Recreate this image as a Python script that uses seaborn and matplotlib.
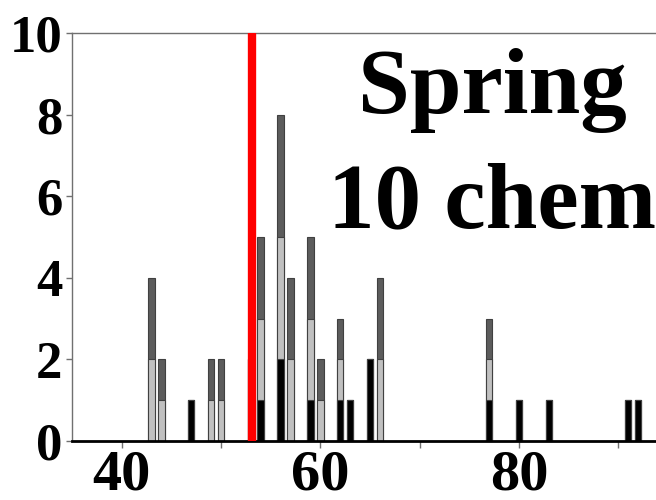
import matplotlib
matplotlib.use('Agg')
import matplotlib.pyplot as plt
import seaborn as sns
import numpy as np
import pandas as pd

# bar positions and counts per layer (bottom -> top)
positions = [43, 44, 47, 49, 50, 53, 54, 56, 57, 59, 60, 62, 63, 65, 66, 77, 80, 83, 91, 92]
black_counts = [0, 0, 1, 0, 0, 2, 1, 2, 0, 1, 0, 1, 1, 2, 0, 1, 1, 1, 1, 1]
light_counts = [2, 1, 0, 1, 1, 0, 2, 3, 2, 2, 1, 1, 0, 0, 2, 1, 0, 0, 0, 0]
dark_counts = [2, 1, 0, 1, 1, 0, 2, 3, 2, 2, 1, 1, 0, 0, 2, 1, 0, 0, 0, 0]
red_line = 53.15
title_lines = ['Spring', '10 chem']
x_major = [40, 60, 80]
x_minor = [50, 70, 90]
y_ticks = [0, 2, 4, 6, 8, 10]

df = pd.DataFrame({'pos': positions, 'black': black_counts, 'light': light_counts, 'dark': dark_counts})
df['lvl1'] = df['black']
df['lvl2'] = df['black'] + df['light']
df['lvl3'] = df['lvl2'] + df['dark']

sns.set_style('ticks')
plt.rcParams['font.family'] = ['Liberation Serif', 'DejaVu Serif']
plt.rcParams['font.weight'] = 'bold'
plt.rcParams['text.color'] = 'black'

fig = plt.figure(figsize=(6.56, 5), dpi=100)
ax = fig.add_axes([72 / 656, 59 / 500, 586 / 656, 408 / 500])

# stacked bars drawn as overlapping cumulative bars
for col, colour in [('lvl3', '#5c5c5c'), ('lvl2', '#c0c0c0'), ('lvl1', 'black')]:
    sns.barplot(data=df, x='pos', y=col, native_scale=True, width=0.65, color=colour,
                saturation=1, edgecolor='#404040', linewidth=0.8, errorbar=None, ax=ax)

ax.axvline(red_line, color='red', lw=6, zorder=5)

ax.set_xlim(35, 94)
ax.set_ylim(0, 10)
ax.set_xticks(x_major)
ax.set_xticks(x_minor, minor=True)
ax.set_yticks(y_ticks)
ax.set_xlabel('')
ax.set_ylabel('')

ax.tick_params(axis='x', which='both', direction='out', length=5, width=1, color='#707070', pad=1,
               labelsize=42, labelcolor='black')
ax.tick_params(axis='y', direction='out', length=4, width=1, color='#707070', pad=3, labelsize=38,
               labelcolor='black')
for lab in ax.get_xticklabels() + ax.get_yticklabels():
    lab.set_fontweight('bold')

for s in ['top', 'left']:
    ax.spines[s].set_visible(True)
    ax.spines[s].set_color('#707070')
    ax.spines[s].set_linewidth(1)
ax.spines['right'].set_visible(False)
ax.spines['bottom'].set_color('black')
ax.spines['bottom'].set_linewidth(2)

fig.text(492 / 656, 1 - 113 / 500, title_lines[0], ha='center', va='baseline', fontsize=67,
         fontweight='bold', color='black')
fig.text(492 / 656, 1 - 227 / 500, title_lines[1], ha='center', va='baseline', fontsize=67,
         fontweight='bold', color='black')

fig.savefig('out.png', dpi=100)
